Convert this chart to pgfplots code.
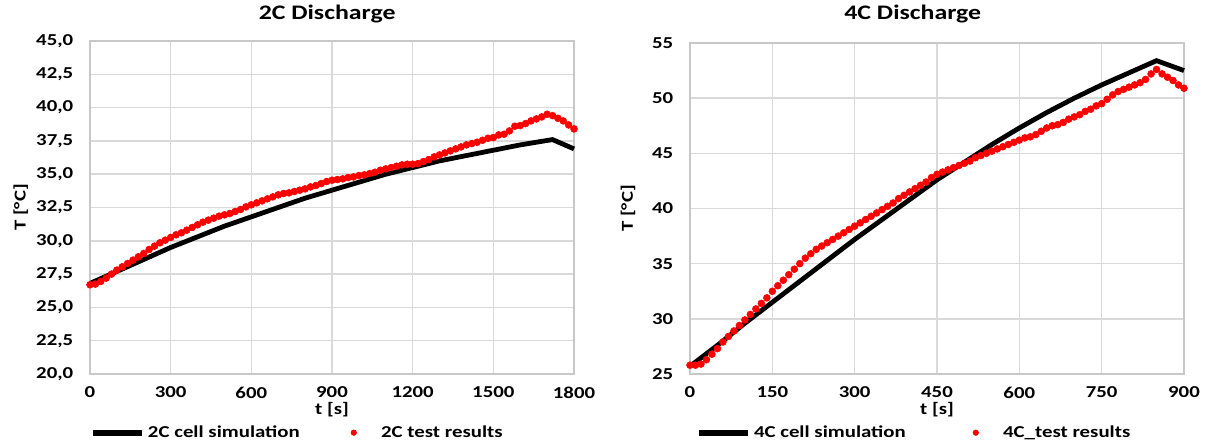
\documentclass[border=0pt]{standalone}
\usepackage{fontspec}
\setmainfont{Carlito}[FakeStretch=1.25]
\usepackage{pgfplots}
\pgfplotsset{compat=1.18}
\definecolor{gridc}{RGB}{217,217,217}
\definecolor{axc}{RGB}{200,200,200}
\definecolor{redc}{RGB}{255,0,0}

\pgfplotsset{
  mystyle/.style={
    scale only axis,
    clip=false,
    font=\fontsize{12.5}{14}\selectfont\bfseries,
    /pgf/number format/assume math mode=true,
    /pgf/number format/1000 sep={},
    grid=major,
    major grid style={gridc, line width=1.1pt},
    axis line style={axc, line width=1.1pt},
    tick style={draw=none},
    major tick length=0pt,
    xticklabel style={yshift=-6pt},
    yticklabel style={xshift=-9pt},
    title style={font=\fontsize{15.5}{17}\selectfont\bfseries, anchor=base},
    label style={font=\fontsize{12.5}{14}\selectfont\bfseries},
    xlabel style={at={(rel axis cs:0.5,0)}, anchor=center, yshift=-27pt},
    legend cell align=left,
    legend style={draw=none, fill=none, inner sep=0pt, outer sep=0pt,
      legend columns=2, font=\fontsize{12.5}{14}\selectfont\bfseries,
      nodes={inner sep=2pt}},
  },
  simline/.style={black, line width=3.6pt, no markers,
    legend image code/.code={\draw[black, line width=4.5pt] (0pt,0pt) -- (37pt,0pt);}},
  testpts/.style={only marks, mark=*, mark size=2.6pt, redc, mark options={draw=redc, fill=redc},
    legend image code/.code={\path[draw=none, fill=none] (0pt,0pt) rectangle (37pt,0.1pt); \fill[redc] (18.5pt,0pt) circle (2.1pt);}},
}

\begin{document}
\begin{tikzpicture}
\useasboundingbox (-67.5pt,-52.5pt) rectangle (839.25pt,280.5pt);

\begin{axis}[mystyle,
  at={(0pt,0pt)}, anchor=south west,
  width=363pt, height=249.75pt,
  xmin=0, xmax=1800, ymin=20, ymax=45,
  xtick={0,300,...,1800},
  ytick={20,22.5,...,45},
  yticklabel style={/pgf/number format/.cd, fixed, fixed zerofill, precision=1, use comma},
  title={2C Discharge},
  title style={at={(rel axis cs:0.49,1)}, yshift=10.5pt},
  xlabel={t [s]},
  ylabel={T [°C]},
  ylabel style={at={(axis description cs:-0.143,0.5)}, anchor=center},
  legend style={at={(rel axis cs:0,0)}, anchor=west, yshift=-44pt,
    /tikz/every even column/.append style={column sep=20pt}},
]
\addplot[simline] coordinates {
(0,26.8) (100,27.7) (200,28.6) (300,29.5) (400,30.3) (500,31.1) (600,31.8)
(700,32.5) (800,33.2) (900,33.8) (1000,34.4) (1100,35.0) (1200,35.5)
(1300,36.0) (1400,36.4) (1500,36.8) (1600,37.2) (1720,37.6) (1800,36.9)};
\addlegendentry{2C cell simulation}
\addplot[testpts] coordinates {
(0,26.7) (20,26.75) (40,26.95) (60,27.2) (80,27.5) (100,27.8) (120,28.05)
(140,28.3) (160,28.55) (180,28.8) (200,29.05) (220,29.35) (240,29.6)
(260,29.85) (280,30.05) (300,30.25) (320,30.45) (340,30.6) (360,30.8)
(380,31.0) (400,31.2) (420,31.4) (440,31.55) (460,31.7) (480,31.85)
(500,31.95) (520,32.05) (540,32.2) (560,32.35) (580,32.55) (600,32.7)
(620,32.85) (640,33.0) (660,33.15) (680,33.3) (700,33.45) (720,33.55)
(740,33.6) (760,33.7) (780,33.8) (800,33.9) (820,34.05) (840,34.15)
(860,34.3) (880,34.45) (900,34.55) (920,34.6) (940,34.65) (960,34.75)
(980,34.8) (1000,34.9) (1020,34.95) (1040,35.05) (1060,35.15) (1080,35.3)
(1100,35.4) (1120,35.5) (1140,35.6) (1160,35.7) (1180,35.75) (1200,35.75)
(1220,35.8) (1240,35.95) (1260,36.1) (1280,36.3) (1300,36.45) (1320,36.6)
(1340,36.75) (1360,36.9) (1380,37.05) (1400,37.2) (1420,37.3) (1440,37.4)
(1460,37.55) (1480,37.7) (1500,37.75) (1520,37.95) (1540,38.0) (1560,38.25)
(1580,38.6) (1600,38.65) (1620,38.8) (1640,39.0) (1660,39.15) (1680,39.3)
(1700,39.5) (1720,39.4) (1740,39.2) (1760,39.0) (1780,38.7) (1800,38.4)};
\addlegendentry{2C test results}
\end{axis}

\begin{axis}[mystyle,
  at={(450pt,0pt)}, anchor=south west,
  width=370.5pt, height=248.25pt,
  xmin=0, xmax=900, ymin=25, ymax=55,
  xtick={0,150,...,900},
  ytick={25,30,...,55},
  title={4C Discharge},
  title style={at={(rel axis cs:0.451,1)}, yshift=12pt},
  xlabel={t [s]},
  ylabel={T [°C]},
  ylabel style={at={(axis description cs:-0.1255,0.5)}, anchor=center},
  legend style={at={(rel axis cs:0,0)}, anchor=west, yshift=-44pt, xshift=4.5pt,
    /tikz/every even column/.append style={column sep=32pt}},
]
\addplot[simline] coordinates {
(0,25.7) (50,27.6) (100,29.6) (150,31.5) (200,33.4) (250,35.3) (300,37.2)
(350,39.0) (400,40.8) (450,42.6) (500,44.2) (550,45.8) (600,47.3)
(650,48.7) (700,50.0) (750,51.2) (800,52.3) (850,53.4) (900,52.5)};
\addlegendentry{4C cell simulation}
\addplot[testpts] coordinates {
(0,25.8) (10,25.8) (20,25.9) (30,26.3) (40,26.8) (50,27.3) (60,27.9)
(70,28.4) (80,28.9) (90,29.4) (100,29.9) (110,30.4) (120,30.9) (130,31.4)
(140,31.9) (150,32.5) (160,33.0) (170,33.5) (180,34.0) (190,34.5) (200,35.0)
(210,35.5) (220,35.9) (230,36.3) (240,36.6) (250,36.9) (260,37.2) (270,37.5)
(280,37.8) (290,38.1) (300,38.4) (310,38.7) (320,39.0) (330,39.3) (340,39.6)
(350,39.9) (360,40.2) (370,40.5) (380,40.9) (390,41.2) (400,41.5) (410,41.8)
(420,42.1) (430,42.4) (440,42.8) (450,43.1) (460,43.3) (470,43.5) (480,43.7)
(490,43.9) (500,44.1) (510,44.3) (520,44.6) (530,44.8) (540,45.0) (550,45.2)
(560,45.4) (570,45.6) (580,45.8) (590,46.0) (600,46.2) (610,46.4) (620,46.5)
(630,46.7) (640,47.0) (650,47.3) (660,47.5) (670,47.6) (680,47.8) (690,48.1)
(700,48.3) (710,48.5) (720,48.8) (730,49.0) (740,49.3) (750,49.5) (760,49.9)
(770,50.3) (780,50.6) (790,50.8) (800,51.0) (810,51.2) (820,51.4) (830,51.7)
(840,52.2) (850,52.6) (860,52.2) (870,51.9) (880,51.6) (890,51.2) (900,50.9)};
\addlegendentry{4C\_test results}
\end{axis}
\end{tikzpicture}
\end{document}
